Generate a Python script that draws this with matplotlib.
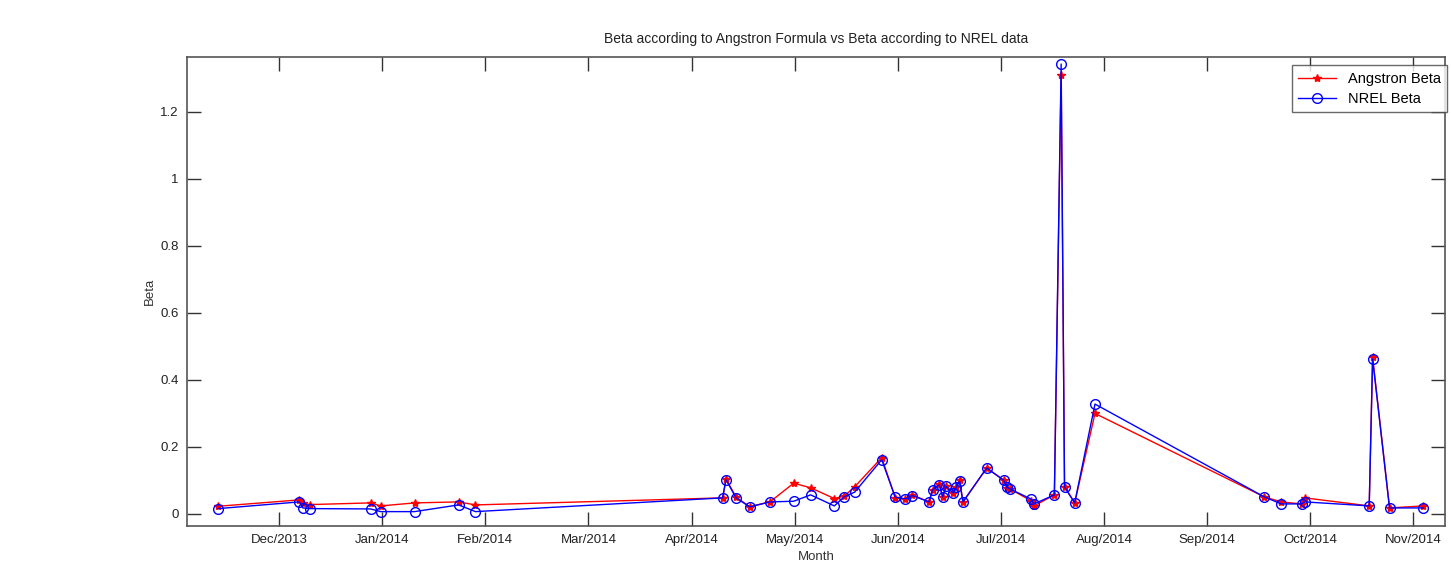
"""
Beta according to Angstron formula vs NREL data
"""

import matplotlib
matplotlib.use("Agg")
import matplotlib.pyplot as plt
import pandas as pd

plt.rcParams['font.family'] = ['Liberation Sans', 'DejaVu Sans']

dates = [
    "2013-11-13", "2013-12-07", "2013-12-08", "2013-12-10", "2013-12-28",
    "2013-12-31", "2014-01-10", "2014-01-23", "2014-01-28", "2014-04-11",
    "2014-04-12", "2014-04-15", "2014-04-19", "2014-04-25", "2014-05-02",
    "2014-05-07", "2014-05-14", "2014-05-17", "2014-05-20", "2014-05-28",
    "2014-06-01", "2014-06-04", "2014-06-06", "2014-06-11", "2014-06-12",
    "2014-06-14", "2014-06-15", "2014-06-16", "2014-06-18", "2014-06-19",
    "2014-06-20", "2014-06-21", "2014-06-28", "2014-07-03", "2014-07-04",
    "2014-07-05", "2014-07-11", "2014-07-12", "2014-07-18", "2014-07-20",
    "2014-07-21", "2014-07-24", "2014-07-30", "2014-09-18", "2014-09-23",
    "2014-09-29", "2014-09-30", "2014-10-19", "2014-10-20", "2014-10-25",
    "2014-11-04",
]
angstrom_beta = [
    0.023, 0.042, 0.032, 0.028, 0.033,
    0.024, 0.033, 0.036, 0.027, 0.048,
    0.104, 0.050, 0.022, 0.036, 0.092,
    0.078, 0.046, 0.054, 0.081, 0.168,
    0.048, 0.045, 0.057, 0.036, 0.072,
    0.089, 0.051, 0.084, 0.063, 0.081,
    0.101, 0.036, 0.137, 0.101, 0.078,
    0.074, 0.040, 0.024, 0.057, 1.310,
    0.081, 0.033, 0.300, 0.051, 0.036,
    0.030, 0.048, 0.024, 0.469, 0.018,
    0.024,
]
nrel_beta = [
    0.016, 0.036, 0.018, 0.016, 0.015,
    0.007, 0.007, 0.027, 0.007, 0.048,
    0.102, 0.048, 0.021, 0.036, 0.038,
    0.057, 0.024, 0.052, 0.065, 0.162,
    0.050, 0.045, 0.055, 0.036, 0.072,
    0.087, 0.051, 0.082, 0.063, 0.079,
    0.098, 0.036, 0.137, 0.101, 0.080,
    0.074, 0.045, 0.030, 0.057, 1.343,
    0.081, 0.033, 0.328, 0.051, 0.030,
    0.030, 0.036, 0.024, 0.463, 0.018,
    0.018,
]
month_labels = ["Dec/2013", "Jan/2014", "Feb/2014", "Mar/2014", "Apr/2014", "May/2014",
                "Jun/2014", "Jul/2014", "Aug/2014", "Sep/2014", "Oct/2014", "Nov/2014"]
y_ticks = [0, 0.2, 0.4, 0.6, 0.8, 1, 1.2]

# days since 1 Dec 2013; ticks are evenly spaced like the MATLAB datetick output
origin = pd.Timestamp("2013-12-01")
days = [(pd.Timestamp(d) - origin).days for d in dates]
tick_step = 335 / 11
tick_pos = [i * tick_step for i in range(len(month_labels))]

fig = plt.figure(figsize=(14.51, 5.79), dpi=100)
ax = fig.add_axes([0.1289, 0.0915, 0.867, 0.810])

ax.plot(days, angstrom_beta, color='red', linewidth=1.0, marker='*',
        markersize=6, label='Angstron Beta')
ax.plot(days, nrel_beta, color='blue', linewidth=1.0, marker='o',
        markersize=7, markerfacecolor='none', markeredgewidth=1.0, label='NREL Beta')

ax.set_xlim(-27.2, 344.4)
ax.set_ylim(-0.036, 1.364)
ax.set_xticks(tick_pos)
ax.set_xticklabels(month_labels)
ax.set_yticks(y_ticks)
ax.set_yticklabels(['0', '0.2', '0.4', '0.6', '0.8', '1', '1.2'])

ax.tick_params(direction='in', length=10, width=1.0, top=True, right=True,
               labelsize=9.5, colors='#333333', labelcolor='#222222', pad=6)
for spine in ax.spines.values():
    spine.set_color('#555555')
    spine.set_linewidth(1.2)

ax.set_title("Beta according to Angstron Formula vs Beta according to NREL data",
             fontsize=10, color='#222222', pad=10)
ax.set_xlabel("Month", fontsize=9.5, color='#333333', labelpad=3)
ax.set_ylabel("Beta", fontsize=9.5, color='#333333', labelpad=3)

leg = ax.legend(loc='upper right', bbox_to_anchor=(1.0076, 0.998), fontsize=10.5,
                frameon=True, fancybox=False, handlelength=2.6, borderpad=0.45,
                labelspacing=0.4)
leg.get_frame().set_edgecolor('#444444')
leg.get_frame().set_linewidth(1.0)

plt.savefig("out.png", dpi=100)
plt.close()
